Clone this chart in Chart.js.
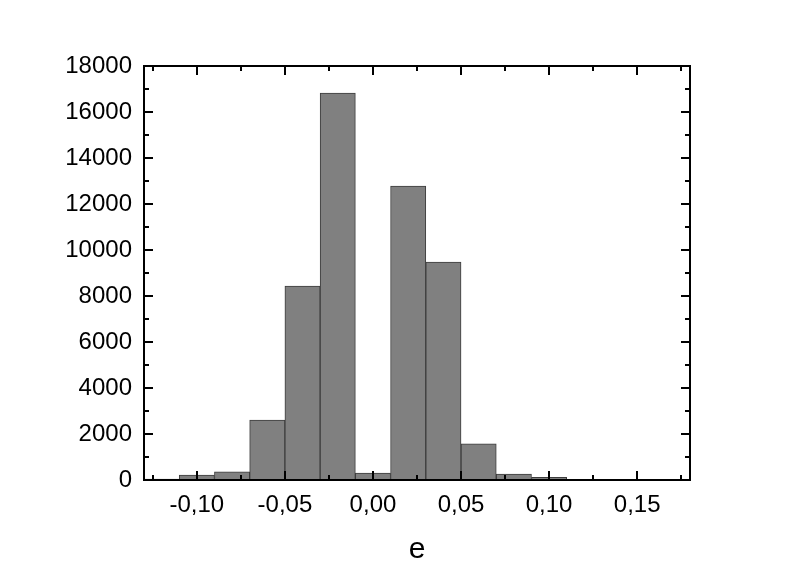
<!DOCTYPE html>
<html>
<head>
<meta charset="utf-8">
<script src="https://cdn.jsdelivr.net/npm/chart.js@4/dist/chart.umd.min.js"></script>
<style>
  html, body { margin: 0; padding: 0; background: #fff; }
  #wrap { width: 801px; height: 576px; }
</style>
</head>
<body>
<div id="wrap"><canvas id="hist" width="801" height="576"></canvas></div>
<script>
// histogram of e, bins 0.02 wide
const binCenters = [-0.12, -0.10, -0.08, -0.06, -0.04, -0.02, 0.00, 0.02, 0.04, 0.06, 0.08, 0.10];
const counts = [40, 210, 350, 2600, 8430, 16820, 300, 12780, 9470, 1570, 260, 120];
const xTicks = [-0.10, -0.05, 0.00, 0.05, 0.10, 0.15];
const xMinor = [-0.125, -0.075, -0.025, 0.025, 0.075, 0.125, 0.175];
const yTicks = [0, 2000, 4000, 6000, 8000, 10000, 12000, 14000, 16000, 18000];
const yMinor = [1000, 3000, 5000, 7000, 9000, 11000, 13000, 15000, 17000];

Chart.defaults.font.family = "'Liberation Sans', Arial, sans-serif";
Chart.defaults.color = "#000";

// frame + inward ticks on all four sides
const frameTicks = {
  id: "frameTicks",
  afterDraw(chart) {
    const { ctx, chartArea: a, scales } = chart;
    const xs = scales.x, ys = scales.y;
    ctx.save();
    ctx.strokeStyle = "#000";
    ctx.lineWidth = 2;
    ctx.beginPath();
    const tick = (vals, len) => {
      vals.forEach((v) => {
        const px = Math.round(xs.getPixelForValue(v));
        ctx.moveTo(px, a.bottom); ctx.lineTo(px, a.bottom - len);
        ctx.moveTo(px, a.top); ctx.lineTo(px, a.top + len);
      });
    };
    const tickY = (vals, len) => {
      vals.forEach((v) => {
        const py = Math.round(ys.getPixelForValue(v));
        ctx.moveTo(a.left, py); ctx.lineTo(a.left + len, py);
        ctx.moveTo(a.right, py); ctx.lineTo(a.right - len, py);
      });
    };
    tick(xTicks, 9);
    tick(xMinor, 5);
    tickY(yTicks, 9);
    tickY(yMinor, 5);
    ctx.stroke();
    ctx.strokeRect(a.left, a.top, a.right - a.left, a.bottom - a.top);
    ctx.restore();
  },
};

new Chart(document.getElementById("hist").getContext("2d"), {
  type: "bar",
  data: {
    datasets: [
      {
        data: binCenters.map((x, i) => ({ x, y: counts[i] })),
        backgroundColor: "#808080",
        borderColor: "#3c3c3c",
        borderWidth: 1,
        borderSkipped: false,
        barPercentage: 1,
        categoryPercentage: 1,
      },
    ],
  },
  options: {
    responsive: false,
    animation: false,
    layout: { padding: { top: 66, right: 111, left: 0, bottom: 0 } },
    plugins: { legend: { display: false }, tooltip: { enabled: false } },
    scales: {
      x: {
        type: "linear",
        offset: false,
        min: -0.13,
        max: 0.18,
        grid: { display: false },
        border: { display: false },
        afterBuildTicks: (s) => { s.ticks = xTicks.map((v) => ({ value: v })); },
        afterFit: (s) => { s.height = 96; },
        ticks: {
          font: { size: 24 },
          padding: 3,
          maxRotation: 0,
          autoSkip: false,
          callback: (v) => v.toFixed(2).replace(".", ","),
        },
        title: { display: true, text: "e", font: { size: 30 }, padding: { top: 0, bottom: 8 } },
      },
      y: {
        min: 0,
        max: 18000,
        grid: { display: false },
        border: { display: false },
        afterBuildTicks: (s) => { s.ticks = yTicks.map((v) => ({ value: v })); },
        afterFit: (s) => { s.width = 144; },
        ticks: { font: { size: 24 }, padding: 4, autoSkip: false, callback: (v) => String(v) },
      },
    },
  },
  plugins: [frameTicks],
});
</script>
</body>
</html>
